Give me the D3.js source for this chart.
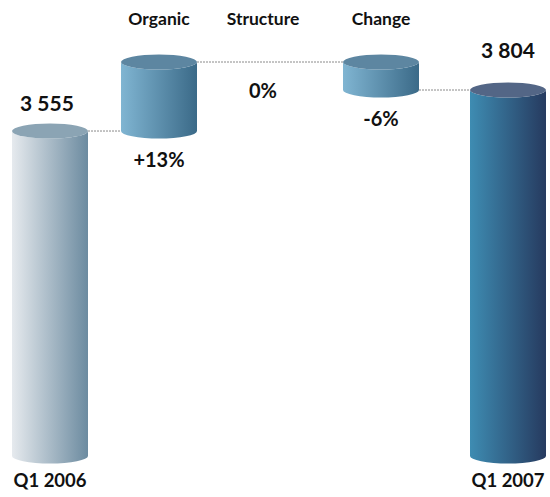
<!DOCTYPE html>
<html><head><meta charset="utf-8">
<script src="https://cdn.jsdelivr.net/npm/d3@7"></script>
<style>
html,body{margin:0;padding:0;background:#fff;}
text{font-family:Lato,"Open Sans",sans-serif;fill:#111;}
</style></head>
<body>
<svg id="chart" width="550" height="497"></svg>
<script>
const categories = ["Q1 2006", "Organic", "Structure", "Change", "Q1 2007"];
const startValue = 3555;
const endValue = 3804;
const deltas = [419, 0, -170];
const deltaLabels = ["+13%", "0%", "-6%"];
const totalLabels = ["3 555", "3 804"];

const svg = d3.select("#chart");
const defs = svg.append("defs");

const x = d3.scaleOrdinal().domain(categories).range([50, 159, 263, 381, 508]);
const barW = 76, ry = 7.5;
const y = d3.scaleLinear().domain([1582, 3974]).range([456, 62]);

function grad(id, c0, c1) {
  const g = defs.append("linearGradient").attr("id", id).attr("x1", "0").attr("x2", "1").attr("y1", "0").attr("y2", "0");
  g.append("stop").attr("offset", "0").attr("stop-color", c0);
  g.append("stop").attr("offset", "1").attr("stop-color", c1);
}
grad("gStart", "#e6eaee", "#6c8ba0");
grad("gDelta", "#80b5d2", "#3b6a88");
grad("gEnd", "#3e8cb2", "#263a5f");

const bars = [];
let running = startValue;
bars.push({cat: categories[0], lo: y.domain()[0], hi: startValue, end: startValue, fill: "url(#gStart)", top: "#8ba4b4", kind: "total", label: totalLabels[0]});
deltas.forEach((d, i) => {
  const s = running, e = running + d;
  bars.push({cat: categories[i + 1], lo: Math.min(s, e), hi: Math.max(s, e), end: e, fill: "url(#gDelta)", top: "#5d86a1", kind: "delta", label: deltaLabels[i]});
  running = e;
});
bars.push({cat: categories[4], lo: y.domain()[0], hi: endValue, end: endValue, fill: "url(#gEnd)", top: "#536686", kind: "total", label: totalLabels[1]});

for (let i = 0; i < bars.length - 1; i++) {
  const b = bars[i];
  if (b.hi === b.lo) continue;
  let j = i + 1;
  while (j < bars.length - 1 && bars[j].hi === bars[j].lo) j++;
  svg.append("line")
    .attr("x1", x(b.cat) + barW / 2).attr("x2", x(bars[j].cat) - barW / 2)
    .attr("y1", y(b.end)).attr("y2", y(b.end))
    .attr("stroke", "#8a8a8a").attr("stroke-width", 1).attr("stroke-dasharray", "2,1");
}

bars.forEach(b => {
  if (b.hi === b.lo) return;
  const cx = x(b.cat), x0 = cx - barW / 2, x1 = cx + barW / 2, rx = barW / 2;
  const yt = y(b.hi), yb = y(b.lo);
  svg.append("path")
    .attr("d", `M${x0},${yt} L${x0},${yb} A${rx},${ry} 0 0 0 ${x1},${yb} L${x1},${yt} A${rx},${ry} 0 0 1 ${x0},${yt} Z`)
    .attr("fill", b.fill);
  svg.append("ellipse").attr("cx", cx).attr("cy", yt).attr("rx", rx).attr("ry", ry).attr("fill", b.top);
});

svg.selectAll("text.cat").data(categories.slice(1, 4)).enter().append("text")
  .attr("x", d => x(d)).attr("y", 25).attr("text-anchor", "middle")
  .style("font-size", "17.5px").style("font-weight", "700").text(d => d);
[categories[0], categories[4]].forEach(c => {
  svg.append("text").attr("x", x(c)).attr("y", 487).attr("text-anchor", "middle")
    .style("font-size", "18.5px").style("font-weight", "700").text(c);
});

svg.append("text").attr("x", x(categories[0]) - 3).attr("y", y(startValue) - 20).attr("text-anchor", "middle")
  .style("font-size", "21px").style("font-weight", "700").text(totalLabels[0]);
svg.append("text").attr("x", x(categories[4])).attr("y", y(endValue) - 32).attr("text-anchor", "middle")
  .style("font-size", "21px").style("font-weight", "700").text(totalLabels[1]);
bars.filter(b => b.kind === "delta").forEach(b => {
  svg.append("text").attr("x", x(b.cat)).attr("y", y(b.lo) + 36).attr("text-anchor", "middle")
    .style("font-size", "20px").style("font-weight", "700").text(b.label);
});
</script>
</body></html>
